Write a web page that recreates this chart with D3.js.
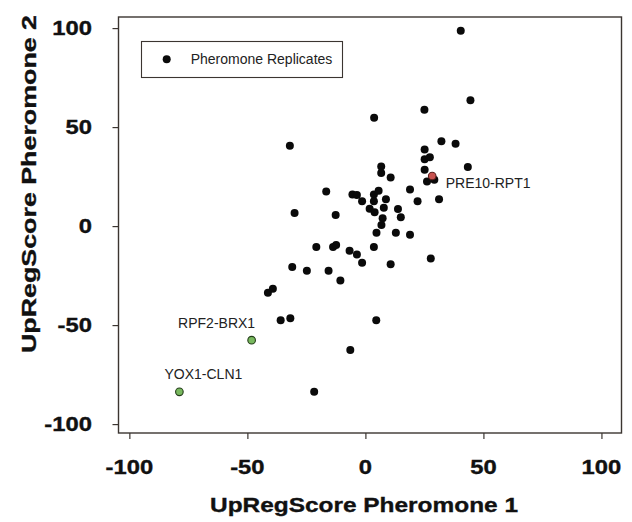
<!DOCTYPE html>
<html>
<head>
<meta charset="utf-8">
<script src="https://cdn.jsdelivr.net/npm/d3@7"></script>
<style>
  html, body { margin: 0; padding: 0; background: #fff; }
  svg { display: block; }
  text { font-family: "Liberation Sans", Arial, sans-serif; }
</style>
</head>
<body>
<svg id="chart" width="632" height="522"></svg>
<script>
// Pheromone replicate scores (x = Pheromone 1, y = Pheromone 2)
const replicateX = [40.4, 44.5, 25.0, 3.7, -32.0, 32.2, 38.2, 25.1, 25.1, 27.3,
  25.1, 43.4, 26.1, 29.2, 6.7, 6.7, 10.7, 18.9, 22.1, 31.2,
  -16.6, -5.5, -3.6, -1.4, 3.6, 5.6, 3.6, 8.7, -12.6, -30.0,
  1.8, 3.9, 7.8, 13.8, 15.0, 7.3, 6.8, 4.7, 12.9, 18.9,
  -20.8, -13.7, -12.4, -6.7, -3.6, -1.4, 3.6, 10.7, 27.7, -31.0,
  -24.8, -15.6, -10.6, -41.3, -39.2, -35.9, -31.8, 4.6, -6.4, -21.7];
const replicateY = [98.6, 63.6, 58.7, 54.7, 40.6, 42.8, 41.6, 38.7, 33.8, 34.8,
  28.5, 29.8, 22.5, 23.4, 30.1, 26.8, 24.6, 18.5, 12.5, 13.6,
  17.5, 15.9, 15.7, 12.6, 16.0, 17.8, 12.5, 13.5, 5.6, 6.6,
  8.7, 7.0, 9.3, 8.6, 4.5, 3.9, 0.5, -3.4, -3.4, -4.4,
  -10.5, -10.5, -9.5, -12.5, -14.3, -18.5, -10.5, -19.3, -16.4, -20.6,
  -22.6, -22.6, -27.5, -33.7, -31.7, -47.5, -46.6, -47.5, -62.6, -83.7];

// Highlighted pairs
const highlightNames = ["PRE10-RPT1", "RPF2-BRX1", "YOX1-CLN1"];
const highlightX = [28.3, -48.2, -78.8];
const highlightY = [25.3, -57.6, -83.7];
const highlightKind = ["up", "down", "down"];

const tickValues = [-100, -50, 0, 50, 100];
const legendLabel = "Pheromone Replicates";
const xTitle = "UpRegScore Pheromone 1";
const yTitle = "UpRegScore Pheromone 2";

const svg = d3.select("#chart");

const x = d3.scaleLinear().domain([-104.6, 108.5]).range([118.5, 621.5]);
const y = d3.scaleLinear().domain([-104.5, 105.6]).range([433, 17]);

const frameColor = "#3b3531";

// Axes with outward ticks
const xAxis = d3.axisBottom(x).tickValues(tickValues).tickSize(6).tickSizeOuter(0).tickFormat("");
const yAxis = d3.axisLeft(y).tickValues(tickValues).tickSize(6).tickSizeOuter(0).tickFormat("");

const gx = svg.append("g").attr("transform", `translate(0,${y.range()[0]})`).call(xAxis);
const gy = svg.append("g").attr("transform", `translate(${x.range()[0]},0)`).call(yAxis);
[gx, gy].forEach(g => {
  g.select(".domain").remove();
  g.selectAll(".tick line").attr("stroke", frameColor).attr("stroke-width", 1.2);
});

// Plot frame
svg.append("rect")
  .attr("x", x.range()[0]).attr("y", y.range()[1])
  .attr("width", x.range()[1] - x.range()[0])
  .attr("height", y.range()[0] - y.range()[1])
  .attr("fill", "none").attr("stroke", frameColor).attr("stroke-width", 1.4);

// Bold tick labels, slightly widened
function widen(sel, factor) {
  sel.each(function () {
    const w = this.getComputedTextLength();
    d3.select(this).attr("textLength", w * factor).attr("lengthAdjust", "spacingAndGlyphs");
  });
}

const boldStyle = sel => sel
  .attr("font-weight", "bold").attr("fill", "#111")
  .attr("stroke", "#111").attr("stroke-width", 0.35);

const xLabels = svg.append("g").selectAll("text").data(tickValues).join("text")
  .attr("x", d => x(d)).attr("y", 474)
  .attr("text-anchor", "middle")
  .attr("font-size", 19.5)
  .call(boldStyle)
  .text(d => d);
widen(xLabels, 1.22);

const yLabels = svg.append("g").selectAll("text").data(tickValues).join("text")
  .attr("x", 92).attr("y", d => y(d) + 7)
  .attr("text-anchor", "end")
  .attr("font-size", 19.5)
  .call(boldStyle)
  .text(d => d);
widen(yLabels, 1.22);

// Axis titles
svg.append("text")
  .attr("x", 364).attr("y", 512)
  .attr("text-anchor", "middle")
  .attr("font-size", 21)
  .call(boldStyle)
  .attr("textLength", 308).attr("lengthAdjust", "spacingAndGlyphs")
  .text(xTitle);

svg.append("text")
  .attr("transform", "translate(36,184) rotate(-90)")
  .attr("text-anchor", "middle")
  .attr("font-size", 21)
  .call(boldStyle)
  .attr("textLength", 338).attr("lengthAdjust", "spacingAndGlyphs")
  .text(yTitle);

// Replicate points
const replicates = replicateX.map((v, i) => ({ x: v, y: replicateY[i] }));
svg.append("g").selectAll("circle").data(replicates).join("circle")
  .attr("cx", d => x(d.x)).attr("cy", d => y(d.y))
  .attr("r", 4).attr("fill", "#0a0a0a");

// Highlighted points and their labels
const highlights = highlightNames.map((n, i) => ({
  name: n, x: highlightX[i], y: highlightY[i], kind: highlightKind[i]
}));
const hg = svg.append("g");
hg.selectAll("circle").data(highlights).join("circle")
  .attr("cx", d => x(d.x)).attr("cy", d => y(d.y))
  .attr("r", 3.8)
  .attr("fill", d => d.kind === "up" ? "#c8524f" : "#78b85e")
  .attr("stroke", d => d.kind === "up" ? "#5a1e1c" : "#243d1a")
  .attr("stroke-width", 1.1);

hg.selectAll("text").data(highlights).join("text")
  .attr("x", d => d.kind === "up" ? x(d.x) + 13.5 : x(d.x) + (d.name === "RPF2-BRX1" ? -35 : 24))
  .attr("y", d => y(d.y) + (d.kind === "up" ? 12.3 : -12.4))
  .attr("text-anchor", d => d.kind === "up" ? "start" : "middle")
  .attr("font-size", 14).attr("fill", "#222")
  .text(d => d.name);

// Legend
const legend = svg.append("g");
legend.append("rect")
  .attr("x", 141.5).attr("y", 41.5).attr("width", 201).attr("height", 36)
  .attr("fill", "#fff").attr("stroke", frameColor).attr("stroke-width", 1.1);
legend.append("circle")
  .attr("cx", 166.7).attr("cy", 59.3).attr("r", 4).attr("fill", "#0a0a0a");
legend.append("text")
  .attr("x", 190.7).attr("y", 64.3)
  .attr("font-size", 14).attr("fill", "#222")
  .text(legendLabel);
</script>
</body>
</html>
